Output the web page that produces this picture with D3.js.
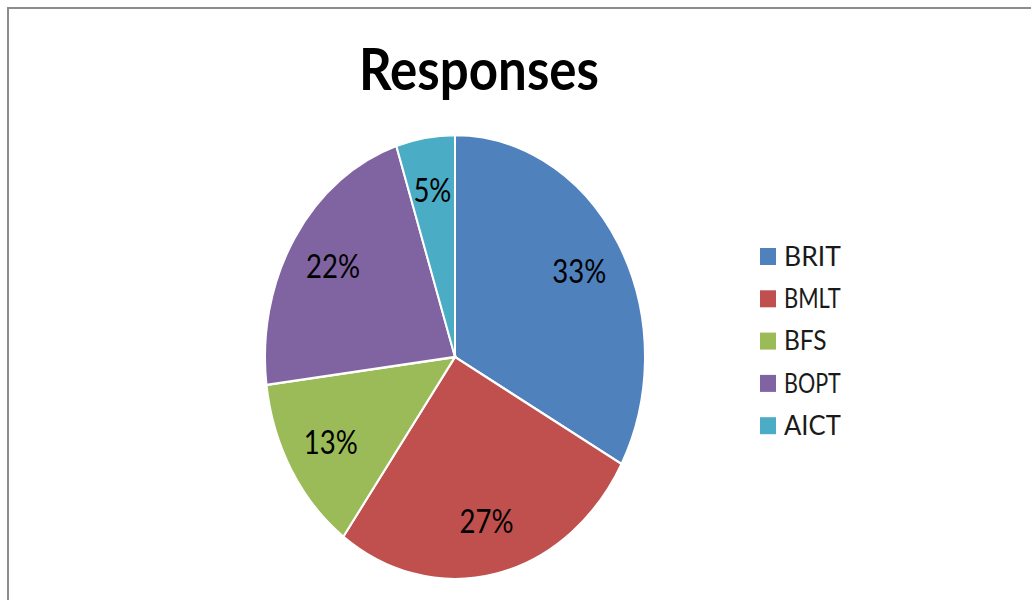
<!DOCTYPE html>
<html>
<head>
<meta charset="utf-8">
<script src="https://cdn.jsdelivr.net/npm/d3@7"></script>
<style>
  body { margin: 0; background: #fff; }
  text { font-family: Lato, "Open Sans", "Noto Sans", sans-serif; }
</style>
</head>
<body>
<div class="chart"></div>
<script>
// data
const categories = ['BRIT', 'BMLT', 'BFS', 'BOPT', 'AICT'];
const values = [33, 27, 13, 22, 5];
const colors = ['#4f81bd', '#c0504d', '#9bbb59', '#8064a2', '#4bacc6'];
const title = 'Responses';

const width = 1031, height = 600;
const cx = 455, cy = 357, rx = 190, ry = 222;
const stretch = ry / rx;

let svg = d3.select('.chart')
  .append('svg')
  .attr('width', width)
  .attr('height', height);

// chart area frame (only top and left edges are visible)
svg.append('rect')
  .attr('x', 8)
  .attr('y', 8)
  .attr('width', width + 20)
  .attr('height', height + 20)
  .attr('fill', '#fff')
  .attr('stroke', '#8c8c8c')
  .attr('stroke-width', 2);

// title
svg.append('text')
  .attr('x', 479)
  .attr('y', 90)
  .attr('text-anchor', 'middle')
  .attr('font-size', 58)
  .attr('font-weight', 'bold')
  .attr('textLength', 240)
  .attr('lengthAdjust', 'spacingAndGlyphs')
  .attr('fill', '#000')
  .text(title);

// pie, squeezed into an ellipse like the original
let data = categories.map((c, i) => ({ name: c, value: values[i], color: colors[i] }));
let pie = d3.pie().sort(null).value(d => d.value);
let arc = d3.arc().innerRadius(0).outerRadius(rx);
let labelArc = d3.arc().innerRadius(rx * 0.76).outerRadius(rx * 0.76);
let total = d3.sum(values);

let g = svg.append('g')
  .attr('transform', `translate(${cx},${cy}) scale(1,${stretch})`);

let slices = g.selectAll('g.slice')
  .data(pie(data))
  .enter()
  .append('g')
  .classed('slice', true);

slices.append('path')
  .attr('d', arc)
  .attr('fill', d => d.data.color)
  .attr('stroke', '#fff')
  .attr('stroke-width', 2);

slices.append('text')
  .attr('transform', d => `translate(${labelArc.centroid(d)})`)
  .attr('text-anchor', 'middle')
  .attr('dy', '0.35em')
  .attr('font-size', 28)
  .attr('textLength', d => String(Math.round(d.data.value / total * 100)).length * 16 + 22)
  .attr('lengthAdjust', 'spacingAndGlyphs')
  .attr('fill', '#000')
  .text(d => Math.round(d.data.value / total * 100) + '%');

// legend
let legend = svg.append('g')
  .attr('transform', 'translate(760,256)');

let item = legend.selectAll('g.item')
  .data(data)
  .enter()
  .append('g')
  .classed('item', true)
  .attr('transform', (d, i) => `translate(0,${i * 42.3})`);

item.append('rect')
  .attr('x', 0)
  .attr('y', -8)
  .attr('width', 16)
  .attr('height', 17)
  .attr('fill', d => d.color);

item.append('text')
  .attr('x', 24)
  .attr('y', 0)
  .attr('dy', '0.36em')
  .attr('font-size', 27)
  .attr('textLength', d => d.name.length * 14.2)
  .attr('lengthAdjust', 'spacingAndGlyphs')
  .attr('fill', '#1a1a1a')
  .attr('transform', 'scale(1,1)')
  .text(d => d.name);
</script>
</body>
</html>
